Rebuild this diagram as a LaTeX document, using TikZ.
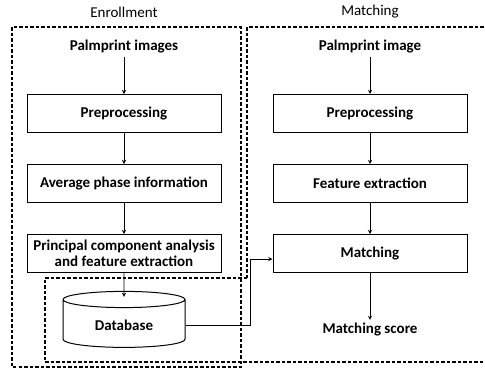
\documentclass[tikz,border=0pt]{standalone}
\usepackage{fontspec}
\setmainfont{Carlito}
\usepackage{tikz}
\usetikzlibrary{positioning, shapes.geometric}

\begin{document}
\begin{tikzpicture}[x=1pt, y=-1pt,
    block/.style={draw, line width=1pt, minimum width=194pt, minimum height=38pt, align=center, inner sep=2pt, font=\bfseries\fontsize{15}{17}\selectfont},
    txt/.style={font=\bfseries\fontsize{15}{17}\selectfont},
    heading/.style={font=\fontsize{15}{17}\selectfont},
    flow/.style={->, >=stealth, line width=0.9pt},
    region/.style={line width=1.2pt, dash pattern=on 3.5pt off 2pt}]
  \useasboundingbox (0,0) rectangle (485,368) ;
  % enrollment
  \node [heading] (enr) at (124,12) {Enrollment} ;
  \node [txt] (img1) at (124,47) {Palmprint images} ;
  \node [block] (pre1) at (124,113.5) {Preprocessing} ;
  \node [block, below = 31pt of pre1] (avg) {Average phase information} ;
  \node [block, below = 31pt of avg, font=\bfseries\fontsize{15}{16}\selectfont] (pca) {Principal component analysis\\and feature extraction} ;
  \node [cylinder, shape border rotate=90, draw, line width=1pt, minimum width=122pt, minimum height=56pt, aspect=0.25, txt] (db) at (124,325) {Database} ;
  % matching
  \node [heading] (mat) at (370,12) {Matching} ;
  \node [txt] (img2) at (370,47) {Palmprint image} ;
  \node [block] (pre2) at (370,113.5) {Preprocessing} ;
  \node [block, below = 31pt of pre2] (feat) {Feature extraction} ;
  \node [block, below = 31pt of feat] (match) {Matching} ;
  \node [txt] (score) at (370,330) {Matching score} ;
  \draw [flow] (img1) -- (pre1) ;
  \draw [flow] (pre1) -- (avg) ;
  \draw [flow] (avg) -- (pca) ;
  \draw [flow] (pca) -- ([yshift=-6pt]db.north) ;
  \draw [flow] (img2) -- (pre2) ;
  \draw [flow] (pre2) -- (feat) ;
  \draw [flow] (feat) -- (match) ;
  \draw [flow] (match) -- (score) ;
  \draw [flow] (db.east) -- ++(65,0) |- ([yshift=-5.5pt]match.west) ;
  % dashed regions
  \draw [region] (12,27) rectangle (241,367) ;
  \draw [region] (247,278) -- (247,27) -- (490,27) -- (490,362) -- (45,362) -- (45,278) -- cycle ;
\end{tikzpicture}
\end{document}
